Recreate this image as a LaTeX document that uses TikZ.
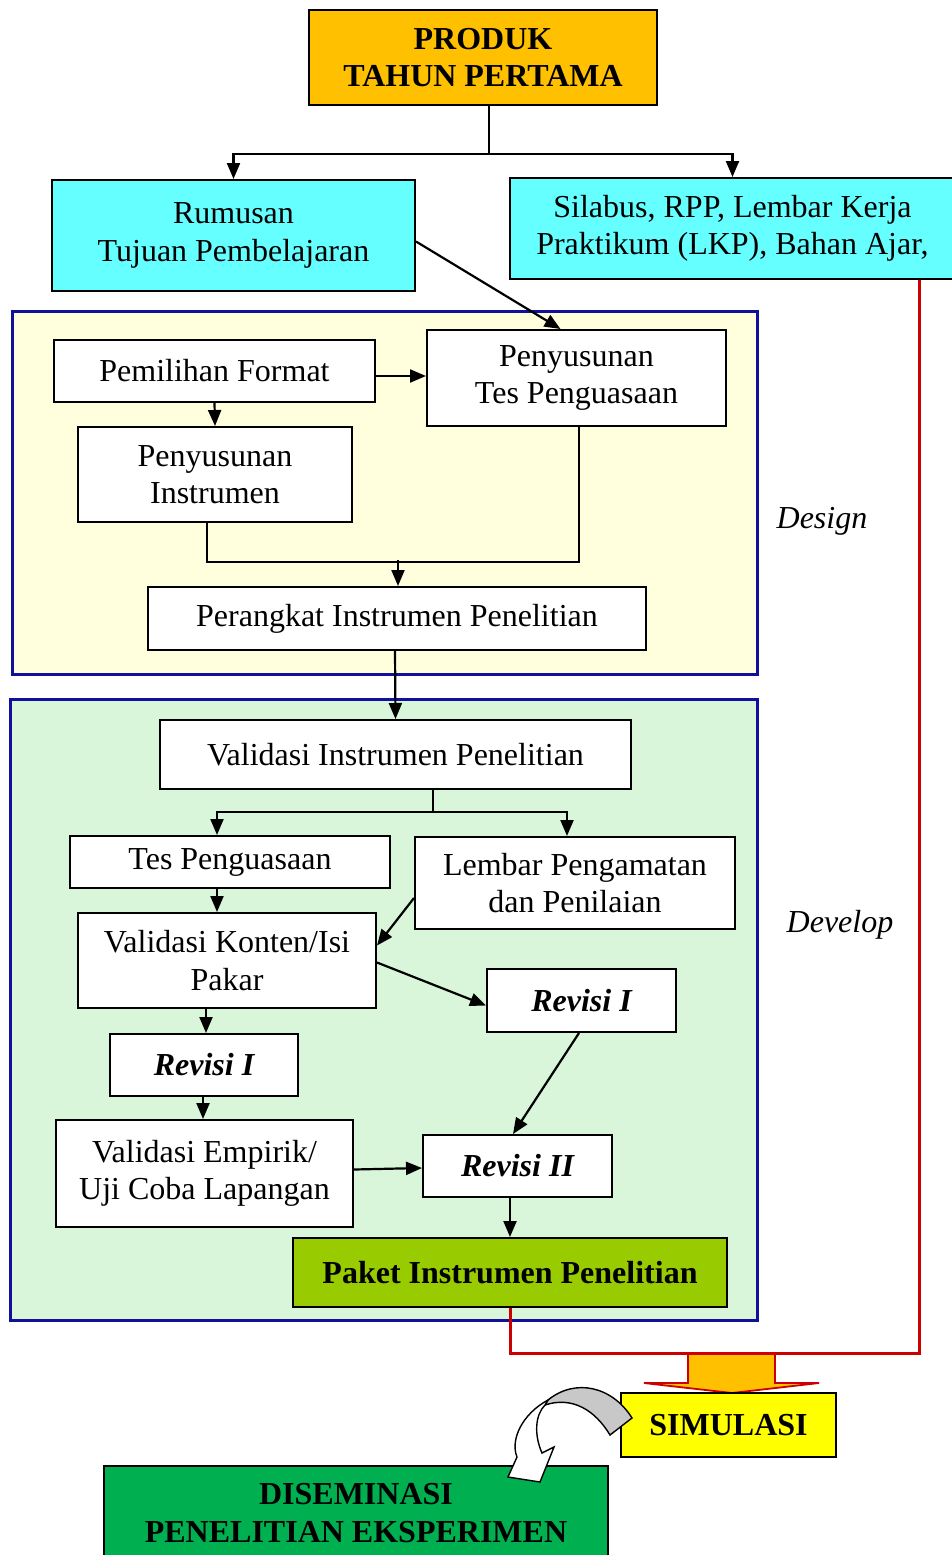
\documentclass[tikz,border=0pt]{standalone}
\usepackage{fontspec}
\setmainfont{Liberation Serif}
\usetikzlibrary{arrows.meta,calc}
\definecolor{orng}{HTML}{FFC000}
\definecolor{cyanbox}{HTML}{66FFFF}
\definecolor{dsgbg}{HTML}{FFFFDD}
\definecolor{devbg}{HTML}{D9F5DA}
\definecolor{pnlblue}{HTML}{10109A}
\definecolor{redl}{HTML}{CC0000}
\definecolor{paketg}{HTML}{99CC00}
\definecolor{disg}{HTML}{00B050}
\definecolor{grayarr}{HTML}{C8C8C8}
\definecolor{yelbox}{HTML}{FFFF00}
\begin{document}
\begin{tikzpicture}[x=1pt,y=-1pt,
  box/.style={draw=black,line width=2pt,fill=white,inner sep=0pt,align=center,
    font=\fontsize{32}{37.5}\selectfont},
  sz/.style 2 args={minimum width=#1pt,minimum height=#2pt},
  panel/.style={draw=pnlblue,line width=3pt,inner sep=0pt},
  arr/.style={line width=2.2pt,-{Triangle[length=16pt,width=13pt]}},
  ln/.style={line width=2.2pt},
  redline/.style={draw=redl,line width=3pt},
  lab/.style={font=\fontsize{32}{37.5}\selectfont\itshape}
]
\useasboundingbox (0,0) rectangle (952,1555);

% panels
\node[panel,fill=dsgbg,sz={745}{363}] (dpanel) at (384.5,492.5) {};
\node[panel,fill=devbg,sz={747}{621}] (vpanel) at (383.5,1009.5) {};
\node[lab] (design) at (822,521) {Design};
\node[lab] (develop) at (840,925) {Develop};

% top
\node[box,fill=orng,sz={348}{95},font=\fontsize{32}{37.5}\selectfont\bfseries] (produk) at (483,57.5) {PRODUK\\TAHUN PERTAMA};
\node[box,fill=cyanbox,sz={363}{111}] (rumusan) at (233.5,235.5) {Rumusan\\Tujuan Pembelajaran};
\node[box,fill=cyanbox,sz={445}{101}] (silabus) at (732.5,228.5) {Silabus, RPP, Lembar Kerja\\Praktikum (LKP), Bahan Ajar,};

% design
\node[box,sz={321}{62}] (pem) at (214.5,371) {Pemilihan Format};
\node[box,sz={299}{96}] (pentes) at (576.5,378) {Penyusunan\\Tes Penguasaan};
\node[box,sz={274}{95}] (peninst) at (215,474.5) {Penyusunan\\Instrumen};
\node[box,sz={498}{63}] (perangkat) at (397,618.5) {Perangkat Instrumen Penelitian};

% develop
\node[box,sz={471}{69}] (valid) at (395.5,754.5) {Validasi Instrumen Penelitian};
\node[box,sz={320}{52}] (tes) at (230,862) {Tes Penguasaan};
\node[box,sz={320}{92}] (lembar) at (575,883) {Lembar Pengamatan\\dan Penilaian};
\node[box,sz={298}{95}] (vkon) at (227,960.5) {Validasi Konten/Isi\\Pakar};
\node[box,sz={189}{63},font=\fontsize{32}{37.5}\selectfont\bfseries\itshape] (rev1r) at (581.5,1000.5) {Revisi I};
\node[box,sz={188}{62},font=\fontsize{32}{37.5}\selectfont\bfseries\itshape] (rev1l) at (204,1065) {Revisi I};
\node[box,sz={297}{107}] (vemp) at (204.5,1173.5) {Validasi Empirik/\\Uji Coba Lapangan};
\node[box,sz={189}{62},font=\fontsize{32}{37.5}\selectfont\bfseries\itshape] (rev2) at (517.5,1166) {Revisi II};
\node[box,fill=paketg,sz={434}{69},font=\fontsize{32}{37.5}\selectfont\bfseries] (paket) at (510,1272.5) {Paket Instrumen Penelitian};

% connectors top
\draw[ln] ($(produk.south)+(6,0)$) -- ++(0,48) coordinate (j1);
\draw[arr] (j1) -| (rumusan.north);
\draw[arr] (j1) -| (silabus.north);
\draw[arr] ($(rumusan.east)+(0,6)$) -- ($(pentes.north)+(-16,0)$);

% connectors design
\draw[arr] ($(pem.east)+(0,5)$) -- ($(pentes.west)+(0,-2)$);
\draw[arr] (pem.south) -- (peninst.north);
\draw[ln] ($(peninst.south)+(-8,0)$) |- ($(pentes.south)+(2.5,135)$) -- ($(pentes.south)+(2.5,0)$);
\draw[arr] ($(perangkat.north)+(1,-26)$) -- ($(perangkat.north)+(1,0)$);
\draw[arr] ($(perangkat.south)+(-2,0)$) -- ($(valid.north)+(0,0)$);

% connectors develop
\draw[ln] ($(valid.south)+(37.5,0)$) -- ++(0,22) coordinate (j3);
\draw[arr] (j3) -| ($(tes.north)+(-13,0)$);
\draw[arr] (j3) -| ($(lembar.north)+(-8,0)$);
\draw[arr] ($(tes.south)+(-13,0)$) -- ($(vkon.north)+(-10,0)$);
\draw[arr] ($(lembar.west)+(0,15)$) -- ($(vkon.east)+(0,-15)$);
\draw[arr] ($(vkon.east)+(0,2)$) -- ($(rev1r.west)+(0,5)$);
\draw[arr] ($(vkon.south)+(-21,0)$) -- ($(rev1l.north)+(2,0)$);
\draw[arr] ($(rev1l.south)+(-1,0)$) -- ($(vemp.north)+(-1.5,0)$);
\draw[arr] ($(vemp.east)+(0,-4)$) -- ($(rev2.west)+(0,2)$);
\draw[arr] ($(rev1r.south)+(-2.5,0)$) -- ($(rev2.north)+(-4.5,0)$);
\draw[arr] (rev2.south -| paket.north) -- (paket.north);

% bottom block arrow and red line
\draw[draw=redl,line width=1.8pt,fill=orng] (688,1353) -- (688,1383) -- (644,1383) -- (732,1393) -- (819,1383) -- (775,1383) -- (775,1353);
\draw[redline] ($(silabus.south east)+(-37,0)$) |- ($(paket.south)+(0,45)$) -- (paket.south);

\node[box,fill=yelbox,sz={215}{64},font=\fontsize{32}{37.5}\selectfont\bfseries] (simulasi) at (728.5,1425) {SIMULASI};
\node[box,fill=disg,sz={504}{94},font=\fontsize{32}{37.5}\selectfont\bfseries] (disem) at (356,1513) {DISEMINASI\\PENELITIAN EKSPERIMEN};

% curved arrow
\draw[line width=1.4pt,fill=grayarr] (632,1418) .. controls (612,1386) and (575,1378) .. (548,1400)
  -- (545,1405) .. controls (572,1396) and (595,1410) .. (610,1435) -- cycle;
\draw[line width=1.4pt,fill=white] (548,1400) .. controls (522,1414) and (510,1440) .. (517,1457)
  -- (508,1477) -- (540,1482) -- (554,1447) -- (542,1453)
  .. controls (534,1435) and (535,1415) .. (545,1405) -- cycle;
\end{tikzpicture}
\end{document}
